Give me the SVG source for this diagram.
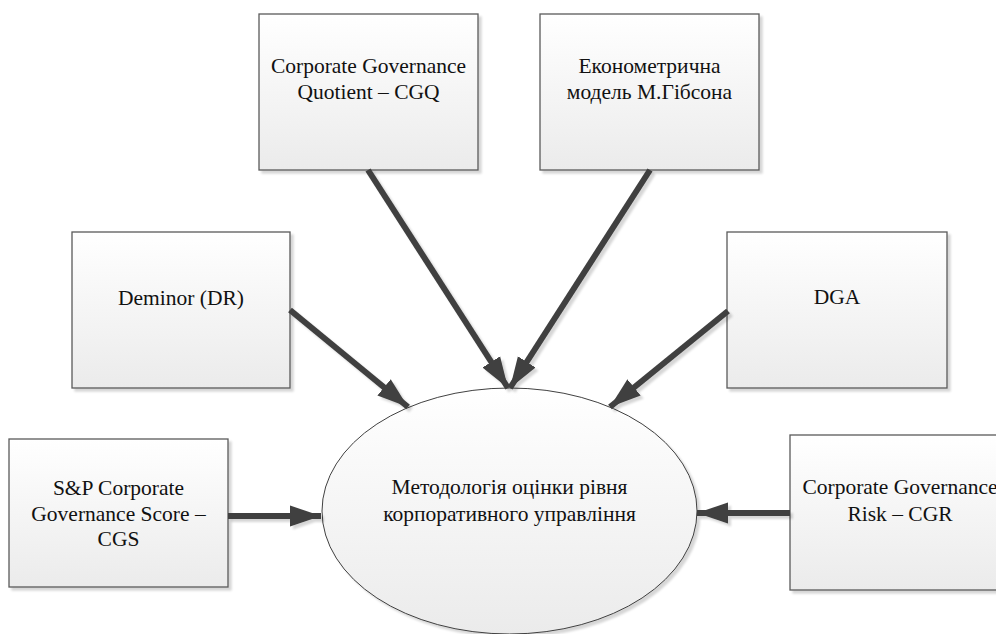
<svg xmlns="http://www.w3.org/2000/svg" width="996" height="634" viewBox="0 0 996 634">
<defs>
<linearGradient id="g" x1="0" y1="0" x2="0" y2="1">
<stop offset="0" stop-color="#ffffff"/>
<stop offset="1" stop-color="#ebebeb"/>
</linearGradient>
<filter id="sh" x="-10%" y="-10%" width="130%" height="130%">
<feDropShadow dx="3" dy="3" stdDeviation="0.8" flood-color="#000" flood-opacity="0.16"/>
</filter>
<marker id="ah" markerUnits="userSpaceOnUse" markerWidth="32" markerHeight="22" refX="31" refY="10.5" orient="auto" viewBox="0 0 32 21">
<path d="M0,0 L31,10.5 L0,21 z" fill="#404040"/>
</marker>
<style>
.box{fill:url(#g);stroke:#5a5a5a;stroke-width:1.3;filter:url(#sh)}
.ell{fill:url(#g);stroke:#404040;stroke-width:1;filter:url(#sh)}
.t{font-size:21.5px;fill:#111;text-anchor:middle}
.c{stroke:#404040;stroke-width:6;fill:none;marker-end:url(#ah)}
#connectors{filter:url(#sh)}
</style>
</defs>
<rect width="996" height="634" fill="#ffffff"/>
<g font-family="'Liberation Serif', 'DejaVu Serif', serif">
<g id="n-cgq"><rect class="box" x="259" y="14" width="219" height="156"/>
<text class="t" x="368.5" y="73">Corporate Governance</text><text class="t" x="368.5" y="99">Quotient – CGQ</text></g>
<g id="n-gibson"><rect class="box" x="540" y="14" width="219" height="156"/>
<text class="t" x="649.5" y="73">Економетрична</text><text class="t" x="649.5" y="99">модель М.Гібсона</text></g>
<g id="n-deminor"><rect class="box" x="72" y="232" width="218" height="156"/>
<text class="t" x="181" y="305">Deminor (DR)</text></g>
<g id="n-dga"><rect class="box" x="727" y="232" width="220" height="156"/>
<text class="t" x="837" y="304">DGA</text></g>
<g id="n-sp"><rect class="box" x="9" y="439" width="219" height="148"/>
<text class="t" x="118.5" y="495">S&amp;P Corporate</text><text class="t" x="118.5" y="521">Governance Score –</text><text class="t" x="118.5" y="546">CGS</text></g>
<g id="n-cgr"><rect class="box" x="790" y="435" width="220" height="155"/>
<text class="t" x="900" y="494">Corporate Governance</text><text class="t" x="900" y="521">Risk – CGR</text></g>
<g id="n-method"><ellipse class="ell" cx="509.5" cy="511" rx="187.5" ry="123"/>
<text class="t" x="509.5" y="494">Методологія оцінки рівня</text><text class="t" x="509.5" y="521">корпоративного управління</text></g>
</g>
<g id="connectors">
<path class="c" d="M368,170 L508,388"/>
<path class="c" d="M650,170 L510,388"/>
<path class="c" d="M290,310 L408,407"/>
<path class="c" d="M728,311 L610,407"/>
<path class="c" d="M228,516 L321,516"/>
<path class="c" d="M790,513 L697,513"/>
</g>
</svg>
